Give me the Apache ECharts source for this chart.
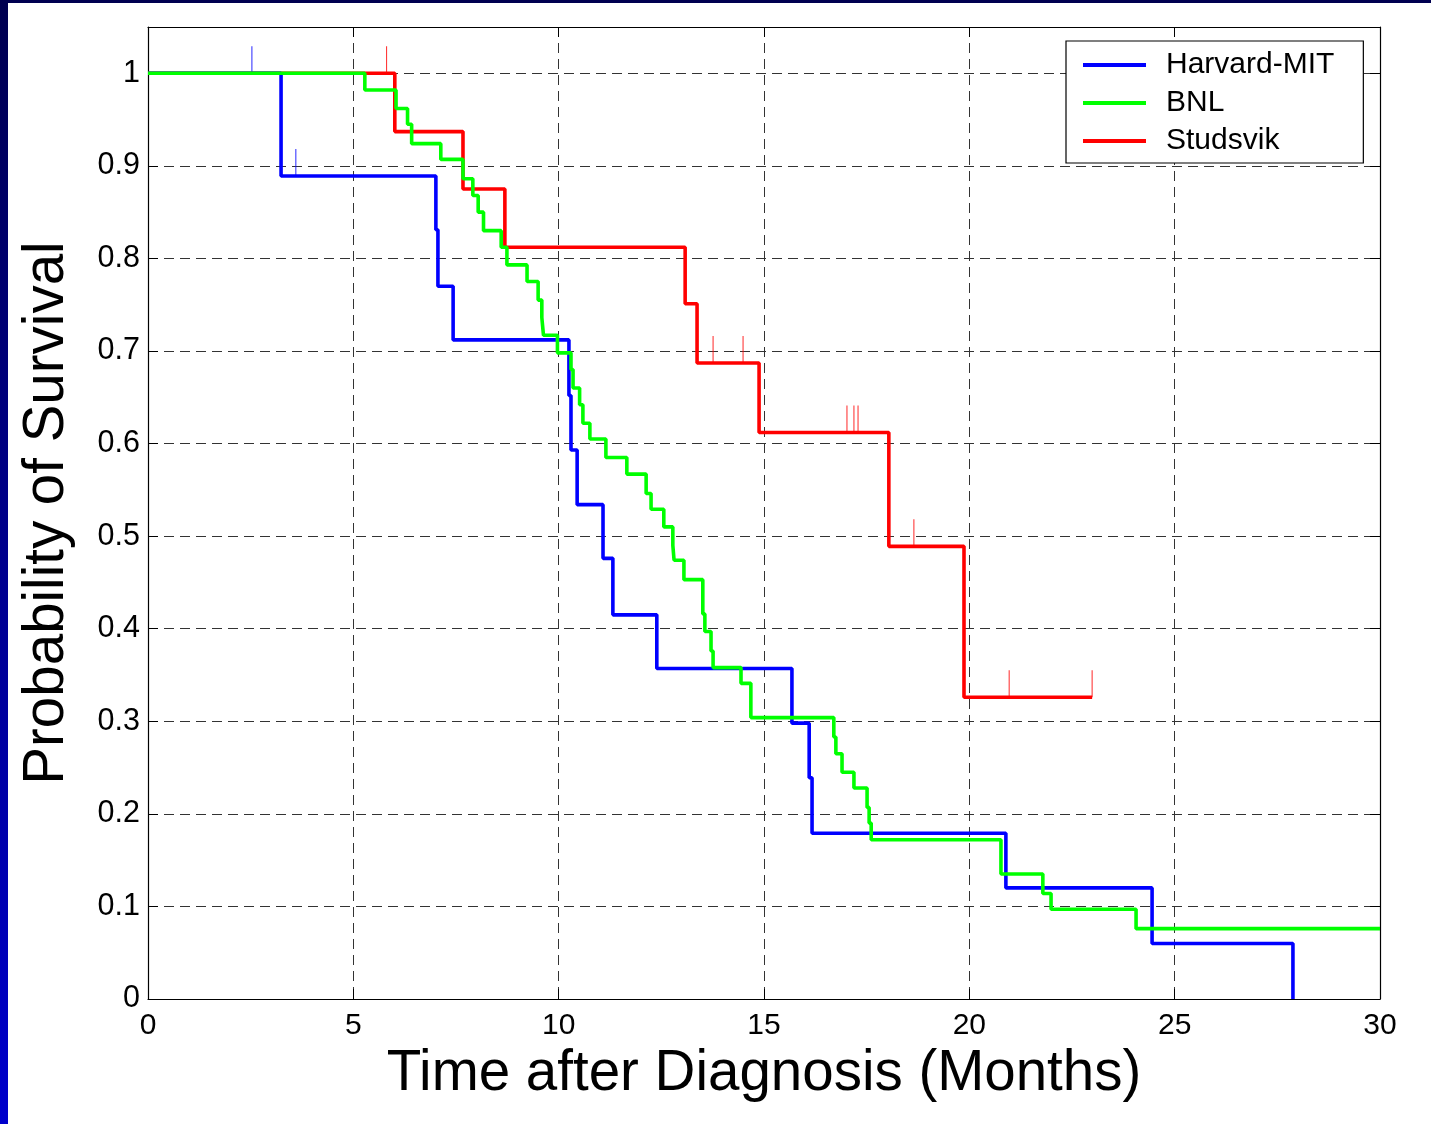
<!DOCTYPE html>
<html>
<head>
<meta charset="utf-8">
<script src="https://cdn.jsdelivr.net/npm/echarts@6/dist/echarts.min.js"></script>
<style>
html,body{margin:0;padding:0;background:#fff;}
#chart{width:1431px;height:1124px;}
</style>
</head>
<body>
<div id="chart"></div>
<script>
// ---- data (months, survival probability) ----
const xTicks = [0, 5, 10, 15, 20, 25, 30];
const seriesNames = ['Harvard-MIT', 'BNL', 'Studsvik'];

const harvardTimes = [0, 3.24, 7.01, 7.06, 7.43, 10.25, 10.30, 10.45, 11.08, 11.32, 12.39, 15.68, 16.10, 16.17, 20.89, 24.45, 27.88];
const harvardSurv  = [1, 0.889, 0.831, 0.770, 0.712, 0.652, 0.593, 0.534, 0.476, 0.415, 0.357, 0.298, 0.239, 0.179, 0.120, 0.060, 0];
const harvardCensorTimes = [2.53, 3.60];
const harvardCensorSurv  = [1, 0.889];

const bnlTimes = [0, 5.28, 6.04, 6.32, 6.42, 7.13, 7.67, 7.91, 8.04, 8.17, 8.60, 8.74, 9.23, 9.50, 9.59, 9.63, 9.97, 10.30, 10.35, 10.51, 10.59, 10.76, 11.15, 11.66, 12.13, 12.25, 12.56, 12.78, 12.81, 13.05, 13.51, 13.56, 13.71, 13.76, 14.44, 14.68, 16.70, 16.75, 16.90, 17.19, 17.51, 17.56, 17.61, 20.77, 21.79, 21.99, 24.06, 30];
const bnlSurv  = [1, 0.982, 0.962, 0.945, 0.924, 0.907, 0.886, 0.868, 0.850, 0.830, 0.812, 0.793, 0.775, 0.755, 0.736, 0.717, 0.698, 0.680, 0.660, 0.642, 0.622, 0.605, 0.585, 0.567, 0.546, 0.529, 0.510, 0.490, 0.474, 0.453, 0.416, 0.397, 0.376, 0.358, 0.341, 0.304, 0.283, 0.265, 0.245, 0.228, 0.207, 0.190, 0.172, 0.135, 0.114, 0.097, 0.076, 0.076];

const studsvikTimes = [0, 6.01, 7.67, 8.69, 13.08, 13.37, 14.88, 18.04, 19.87, 22.99];
const studsvikSurv  = [1, 0.937, 0.875, 0.812, 0.751, 0.687, 0.612, 0.489, 0.326, 0.326];
const studsvikCensorTimes = [5.81, 13.76, 14.49, 17.02, 17.19, 17.29, 18.65, 20.97, 22.99];
const studsvikCensorSurv  = [1, 0.687, 0.687, 0.612, 0.612, 0.612, 0.489, 0.326, 0.326];

const zip = (a, b) => a.map((v, i) => [v, b[i]]);
const FONT = 'Liberation Sans, Arial, sans-serif';
const colors = ['#0000ff', '#00ff00', '#ff0000'];

function stepSeries(name, data, color, z) {
  return {
    name: name, type: 'line', step: 'end', data: data,
    symbol: 'none', showSymbol: false, z: z,
    lineStyle: { color: color, width: 3.6 },
    itemStyle: { color: color },
    emphasis: { disabled: true }, animation: false
  };
}
function censorSeries(name, data, color) {
  return {
    name: name, type: 'scatter', data: data, z: 1,
    symbol: 'rect', symbolSize: [1, 27], symbolOffset: [0, -13.5],
    itemStyle: { color: color, opacity: 0.85 },
    silent: true, animation: false
  };
}

const chart = echarts.init(document.getElementById('chart'));
const gridLine = { show: true, lineStyle: { color: '#333', type: [10, 6], width: 1 } };
const axisLineBlack = { show: true, onZero: false, lineStyle: { color: '#000', width: 1.2 } };

chart.setOption({
  backgroundColor: '#ffffff',
  animation: false,
  graphic: [
    { type: 'rect', left: 0, top: 0, shape: { width: 8, height: 1124 }, z: 100,
      style: { fill: new echarts.graphic.LinearGradient(0, 0, 0, 1, [
        { offset: 0, color: '#000050' }, { offset: 1, color: '#0000cc' }]) } },
    { type: 'rect', left: 0, top: 0, shape: { width: 1431, height: 3 }, z: 100,
      style: { fill: '#000050' } }
  ],
  grid: { left: 148, right: 51, top: 27, bottom: 125, containLabel: false },
  legend: {
    data: seriesNames, orient: 'vertical', left: 1066, top: 41,
    padding: [9, 29, 7, 17], itemGap: 8, itemWidth: 63, itemHeight: 4,
    icon: 'rect', backgroundColor: '#fff', borderColor: '#000', borderWidth: 1.2,
    textStyle: { fontFamily: FONT, fontSize: 30, color: '#000', lineHeight: 30, padding: [0, 0, 0, 15] },
    selectedMode: false
  },
  xAxis: [
    {
      type: 'value', min: 0, max: 30, interval: 5, position: 'bottom',
      name: 'Time after Diagnosis (Months)', nameLocation: 'middle', nameGap: 46,
      nameTextStyle: { fontFamily: FONT, fontSize: 56.5, color: '#000' },
      axisLine: axisLineBlack,
      axisTick: { show: true, inside: true, length: 10, lineStyle: { color: '#000' } },
      axisLabel: { fontFamily: FONT, fontSize: 30, color: '#000', margin: 12,
        formatter: v => xTicks.indexOf(v) >= 0 ? String(v) : '' },
      splitLine: gridLine
    },
    {
      type: 'value', min: 0, max: 30, interval: 5, position: 'top',
      axisLine: axisLineBlack,
      axisTick: { show: true, inside: true, length: 10, lineStyle: { color: '#000' } },
      axisLabel: { show: false }, splitLine: { show: false }
    }
  ],
  yAxis: [
    {
      type: 'value', min: 0, max: 1.05, interval: 0.1, position: 'left',
      name: 'Probability of Survival', nameLocation: 'middle', nameGap: 72,
      nameTextStyle: { fontFamily: FONT, fontSize: 56.5, color: '#000' },
      axisLine: axisLineBlack,
      axisTick: { show: true, inside: true, length: 10, lineStyle: { color: '#000' } },
      axisLabel: { fontFamily: FONT, fontSize: 30.5, color: '#000', margin: 8,
        formatter: v => v > 1.001 ? '' : String(Math.round(v * 10) / 10) },
      splitLine: gridLine
    },
    {
      type: 'value', min: 0, max: 1.05, interval: 0.1, position: 'right',
      axisLine: axisLineBlack,
      axisTick: { show: true, inside: true, length: 10, lineStyle: { color: '#000' } },
      axisLabel: { show: false }, splitLine: { show: false }
    }
  ],
  series: [
    stepSeries(seriesNames[0], zip(harvardTimes, harvardSurv), colors[0], 3),
    stepSeries(seriesNames[1], zip(bnlTimes, bnlSurv), colors[1], 4),
    stepSeries(seriesNames[2], zip(studsvikTimes, studsvikSurv), colors[2], 2),
    censorSeries('Harvard-MIT censored', zip(harvardCensorTimes, harvardCensorSurv), colors[0]),
    censorSeries('Studsvik censored', zip(studsvikCensorTimes, studsvikCensorSurv), colors[2])
  ]
});
</script>
</body>
</html>
